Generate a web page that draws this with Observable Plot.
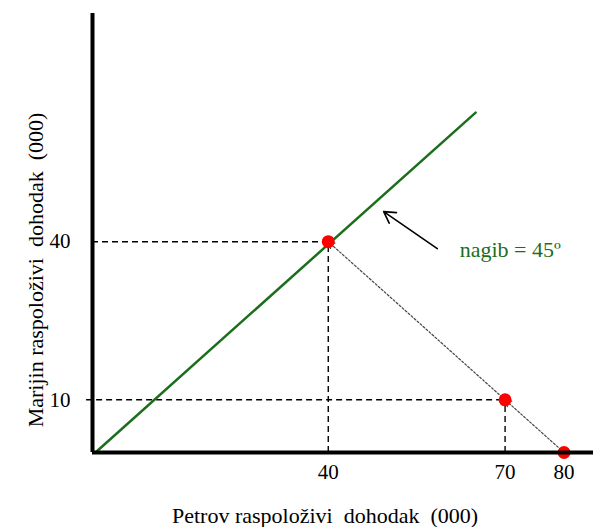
<!DOCTYPE html>
<html>
<head>
<meta charset="utf-8">
<script src="https://cdn.jsdelivr.net/npm/d3@7"></script>
<script src="https://cdn.jsdelivr.net/npm/@observablehq/plot@0.6"></script>
<style>
  html, body { margin: 0; padding: 0; background: #fff; }
</style>
</head>
<body>
<div id="chart"></div>
<script>
// Data
const xTicks = [40, 70, 80];
const yTicks = [10, 40];
const points = [
  {x: 40, y: 40},
  {x: 70, y: 10},
  {x: 80, y: 0}
];
const lineX = [0.5, 65];          // 45° line extent (y = x)
const budgetPath = [               // dotted segments with arrowheads
  {x1: 80, y1: 0, x2: 70, y2: 10},
  {x1: 70, y1: 10, x2: 40, y2: 40}
];
const slopeArrow = [{x1: 58.5, y1: 38.7, x2: 49.4, y2: 45.7}];
const slopeLabel = [{x: 62.3, y: 38.4, text: "nagib = 45º"}];
const xTitle = "Petrov raspoloživi  dohodak  (000)";
const yTitle = "Marijin raspoloživi  dohodak  (000)";

const green = "#1b6f1b";

const chart = Plot.plot({
  width: 593,
  height: 527,
  marginLeft: 92,
  marginRight: 0,
  marginTop: 13,
  marginBottom: 75,
  style: {fontFamily: "'Liberation Serif', 'Times New Roman', serif", fontSize: "21px", color: "#000", background: "#fff"},
  x: {domain: [0, 85], label: null},
  y: {domain: [0, 83.3], label: null},
  marks: [
    Plot.axisX({ticks: xTicks, tickSize: 0, tickPadding: 12, fontSize: 21, label: null}),
    Plot.axisY({ticks: yTicks, tickSize: 0, tickPadding: 22, fontSize: 21, label: null}),
    // dashed guides
    Plot.ruleY(points.filter(d => d.y > 0), {y: "y", x1: d => d.y === 10 ? -1 : 0, x2: "x", stroke: "#000", strokeWidth: 1.4, strokeDasharray: "6,4"}),
    Plot.ruleX(points.filter(d => d.y > 0), {x: "x", y1: 0, y2: "y", stroke: "#000", strokeWidth: 1.4, strokeDasharray: "6,4"}),
    // dotted budget path with arrowheads
    Plot.arrow(budgetPath, {x1: "x1", y1: "y1", x2: "x2", y2: "y2", stroke: "#444", strokeWidth: 1.2, strokeDasharray: "2,2", headLength: 9, bend: 0}),
    // 45° line
    Plot.line(lineX.map(v => ({x: v, y: v - 0.5})), {x: "x", y: "y", stroke: green, strokeWidth: 2.5}),
    // points
    Plot.dot(points, {x: "x", y: "y", r: 6.5, fill: "#ff0000", stroke: "none"}),
    // slope annotation
    Plot.arrow(slopeArrow, {x1: "x1", y1: "y1", x2: "x2", y2: "y2", stroke: "#000", strokeWidth: 1.6, headLength: 12}),
    Plot.text(slopeLabel, {x: "x", y: "y", text: "text", fill: green, fontSize: 22, textAnchor: "start"}),
    // axes lines
    Plot.ruleX([0], {stroke: "#000", strokeWidth: 4}),
    Plot.ruleY([0], {stroke: "#000", strokeWidth: 4}),
    // titles
    Plot.text([xTitle], {frameAnchor: "bottom", textAnchor: "middle", lineAnchor: "bottom", dx: -18, dy: 70, text: d => d, fontSize: 22}),
    Plot.text([yTitle], {frameAnchor: "left", textAnchor: "middle", lineAnchor: "middle", dx: -57, dy: 37, rotate: -90, text: d => d, fontSize: 22})
  ]
});
document.getElementById("chart").appendChild(chart);
</script>
</body>
</html>
